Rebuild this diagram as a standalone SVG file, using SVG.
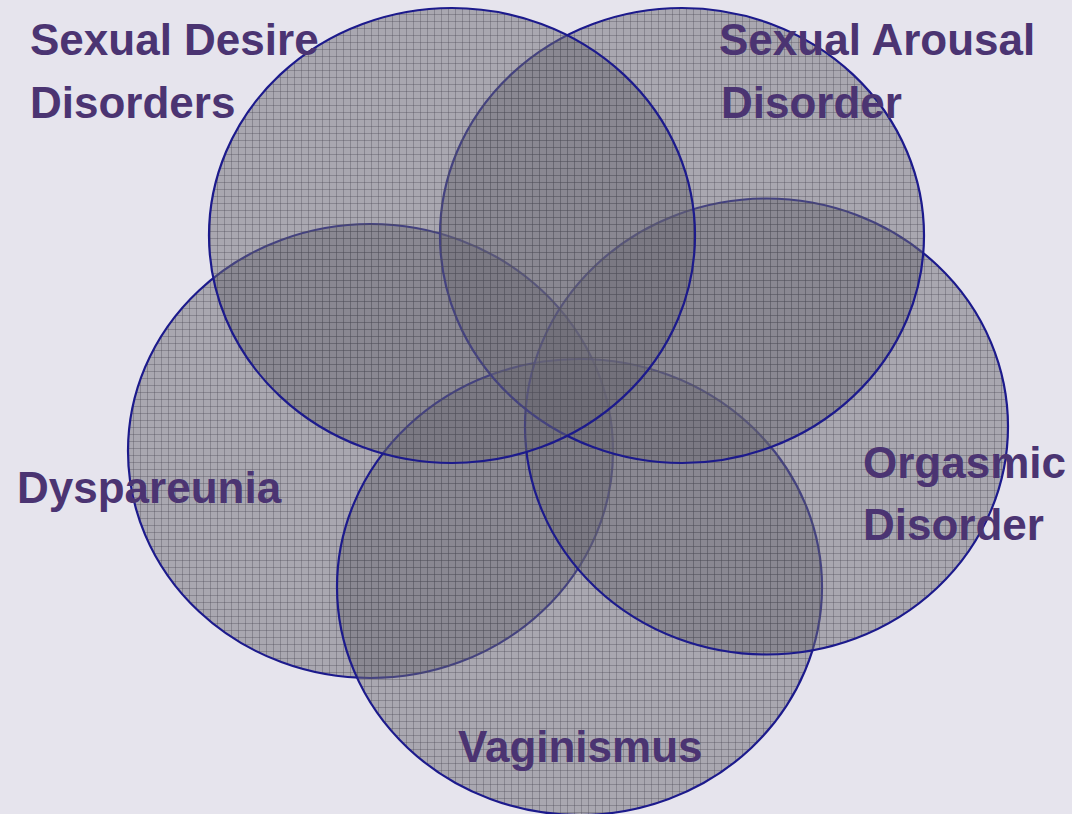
<svg xmlns="http://www.w3.org/2000/svg" width="1072" height="814" viewBox="0 0 1072 814">
<defs>
<pattern id="grid" width="7" height="7" patternUnits="userSpaceOnUse">
<rect width="7" height="7" fill="#6c6a74" fill-opacity="0.5"/>
<path d="M0 0.5H7M0.5 0V7" stroke="#4a4852" stroke-opacity="0.35" stroke-width="1" fill="none"/>
</pattern>
</defs>
<style>
.set{fill:url(#grid);stroke:#1c1a8c;stroke-width:2.2}
.lbl{font-family:"Liberation Sans",Arial,sans-serif;font-weight:bold;font-size:44px;fill:#4b3472}
</style>
<rect width="1072" height="814" fill="#e6e4ed"/>
<g id="dyspareunia-set"><ellipse class="set" cx="370.5" cy="451" rx="242.5" ry="227"/></g>
<g id="vaginismus-set"><ellipse class="set" cx="579.5" cy="587" rx="242.5" ry="228"/></g>
<g id="orgasmic-set"><ellipse class="set" cx="766.5" cy="426.5" rx="241.5" ry="228"/></g>
<g id="arousal-set"><ellipse class="set" cx="682" cy="235.5" rx="242" ry="227.5"/></g>
<g id="desire-set"><ellipse class="set" cx="452" cy="235.5" rx="243" ry="227.5"/></g>
<g id="connectors"></g>
<g id="labels">
<text class="lbl" x="30" y="55">Sexual Desire</text>
<text class="lbl" x="30" y="118">Disorders</text>
<text class="lbl" x="719" y="55">Sexual Arousal</text>
<text class="lbl" x="721" y="118">Disorder</text>
<text class="lbl" x="17" y="503">Dyspareunia</text>
<text class="lbl" x="863" y="478">Orgasmic</text>
<text class="lbl" x="863" y="540">Disorder</text>
<text class="lbl" x="458" y="762">Vaginismus</text>
</g>
</svg>
